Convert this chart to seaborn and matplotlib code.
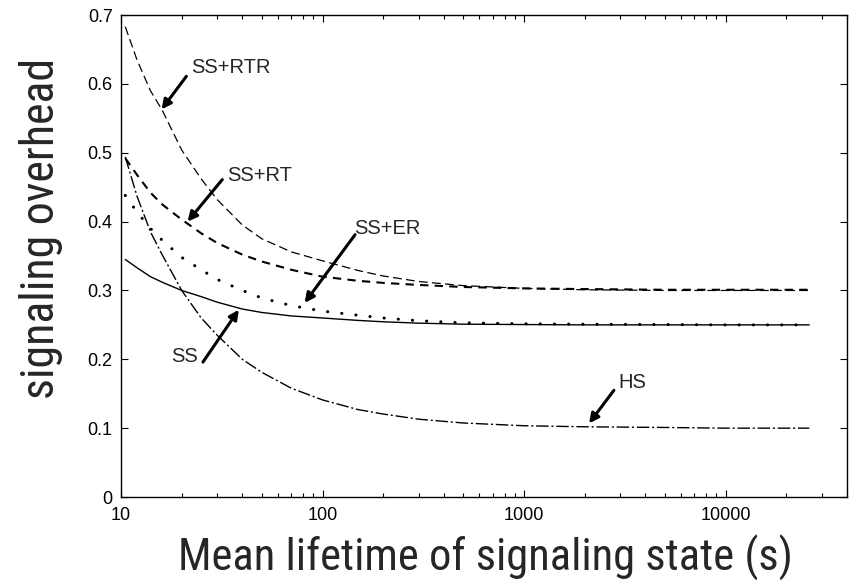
import numpy as np
import pandas as pd
import seaborn as sns
import matplotlib.pyplot as plt
from matplotlib.ticker import FixedLocator, NullFormatter, LogLocator

# Data
lifetime = [10.5, 12, 14, 16, 20, 25, 30, 40, 50, 70, 100, 150, 200, 300,
            500, 1000, 2000, 5000, 10000, 26000]
ss_rtr = [0.683, 0.635, 0.590, 0.562, 0.504, 0.462, 0.432, 0.395, 0.375, 0.356,
          0.343, 0.329, 0.321, 0.313, 0.307, 0.303, 0.301, 0.300, 0.300, 0.300]
ss_rt = [0.492, 0.468, 0.442, 0.425, 0.403, 0.383, 0.369, 0.352, 0.342, 0.330,
         0.320, 0.314, 0.311, 0.308, 0.305, 0.303, 0.302, 0.301, 0.301, 0.301]
ss_er = [0.438, 0.414, 0.390, 0.373, 0.348, 0.330, 0.316, 0.300, 0.289, 0.278,
         0.270, 0.264, 0.260, 0.256, 0.253, 0.2515, 0.251, 0.2505, 0.250, 0.250]
ss = [0.345, 0.333, 0.320, 0.312, 0.300, 0.291, 0.283, 0.273, 0.268, 0.263,
      0.260, 0.2565, 0.2545, 0.2525, 0.251, 0.2505, 0.250, 0.250, 0.250, 0.250]
hs = [0.494, 0.437, 0.385, 0.352, 0.300, 0.260, 0.235, 0.200, 0.181, 0.158,
      0.141, 0.127, 0.1205, 0.113, 0.1075, 0.1035, 0.102, 0.101, 0.100, 0.100]

y_ticks = [0, 0.1, 0.2, 0.3, 0.4, 0.5, 0.6, 0.7]
y_labels = ['0', '0.1', '0.2', '0.3', '0.4', '0.5', '0.6', '0.7']
x_ticks = [10, 100, 1000, 10000]
x_labels = ['10', '100', '1000', '10000']

# label, arrow tip, arrow tail, text position, alignment
notes = [
    ('SS+RTR', (15.9, 0.563), (21.1, 0.611), (22.4, 0.624), 'left'),
    ('SS+RT', (21.4, 0.400), (31.8, 0.461), (33.7, 0.467), 'left'),
    ('SS+ER', (81.5, 0.282), (145, 0.381), (144, 0.390), 'left'),
    ('SS', (38.4, 0.272), (25.5, 0.196), (24.0, 0.204), 'right'),
    ('HS', (2100, 0.107), (2790, 0.155), (2950, 0.167), 'left'),
]

df = pd.DataFrame({'lifetime': lifetime, 'SS+RTR': ss_rtr, 'SS+RT': ss_rt,
                   'SS+ER': ss_er, 'SS': ss, 'HS': hs})

sns.set_style('ticks')
plt.rcParams['font.family'] = ['Liberation Sans', 'DejaVu Sans']

fig = plt.figure(figsize=(8.54, 5.85), dpi=100)
ax = fig.add_axes([0.1417, 0.1504, 0.8501, 0.8239])

sns.lineplot(data=df, x='lifetime', y='SS+RTR', ax=ax, color='black', lw=0.9,
             linestyle=(0, (7, 3.5)))
sns.lineplot(data=df, x='lifetime', y='SS+RT', ax=ax, color='black', lw=1.5,
             linestyle=(0, (4, 3)))
sns.lineplot(data=df, x='lifetime', y='SS+ER', ax=ax, color='black', lw=2.2,
             linestyle=(0, (0.05, 4.6)), dash_capstyle='round')
sns.lineplot(data=df, x='lifetime', y='SS', ax=ax, color='black', lw=1.0)
sns.lineplot(data=df, x='lifetime', y='HS', ax=ax, color='black', lw=1.0,
             linestyle=(0, (9, 2, 1.5, 2)))

ax.set_xscale('log')
ax.set_xlim(10, 40000)
ax.set_ylim(0, 0.7)
ax.xaxis.set_major_locator(FixedLocator(x_ticks))
ax.set_xticklabels(x_labels)
ax.xaxis.set_minor_locator(LogLocator(base=10, subs=np.arange(2, 10)))
ax.xaxis.set_minor_formatter(NullFormatter())
ax.set_yticks(y_ticks)
ax.set_yticklabels(y_labels)

ax.tick_params(which='both', direction='in', top=True, right=True,
               labelsize=13, width=0.8, colors='black')
ax.tick_params(axis='x', pad=7)
ax.tick_params(axis='y', pad=6)
ax.tick_params(which='major', length=5)
ax.tick_params(which='minor', length=3)
for sp in ax.spines.values():
    sp.set_linewidth(1.0)
    sp.set_color('black')

for label, tip, tail, pos, ha in notes:
    ax.annotate('', xy=tip, xytext=tail,
                arrowprops=dict(arrowstyle='-|>', color='black', lw=2.2,
                                mutation_scale=14, shrinkA=0, shrinkB=0))
    ax.text(pos[0], pos[1], label, ha=ha, va='center', fontsize=14.5)

narrow = ['Roboto Condensed', 'DejaVu Sans']
ax.set_xlabel('Mean lifetime of signaling state (s)', fontsize=32,
              family=narrow, fontstretch='condensed', va='top')
ax.set_ylabel('signaling overhead', fontsize=33, family=narrow,
              fontstretch='condensed')
ax.xaxis.set_label_coords(0.502, -0.078)
ax.yaxis.set_label_coords(-0.080, 0.558)

fig.savefig('out.png', dpi=100)
